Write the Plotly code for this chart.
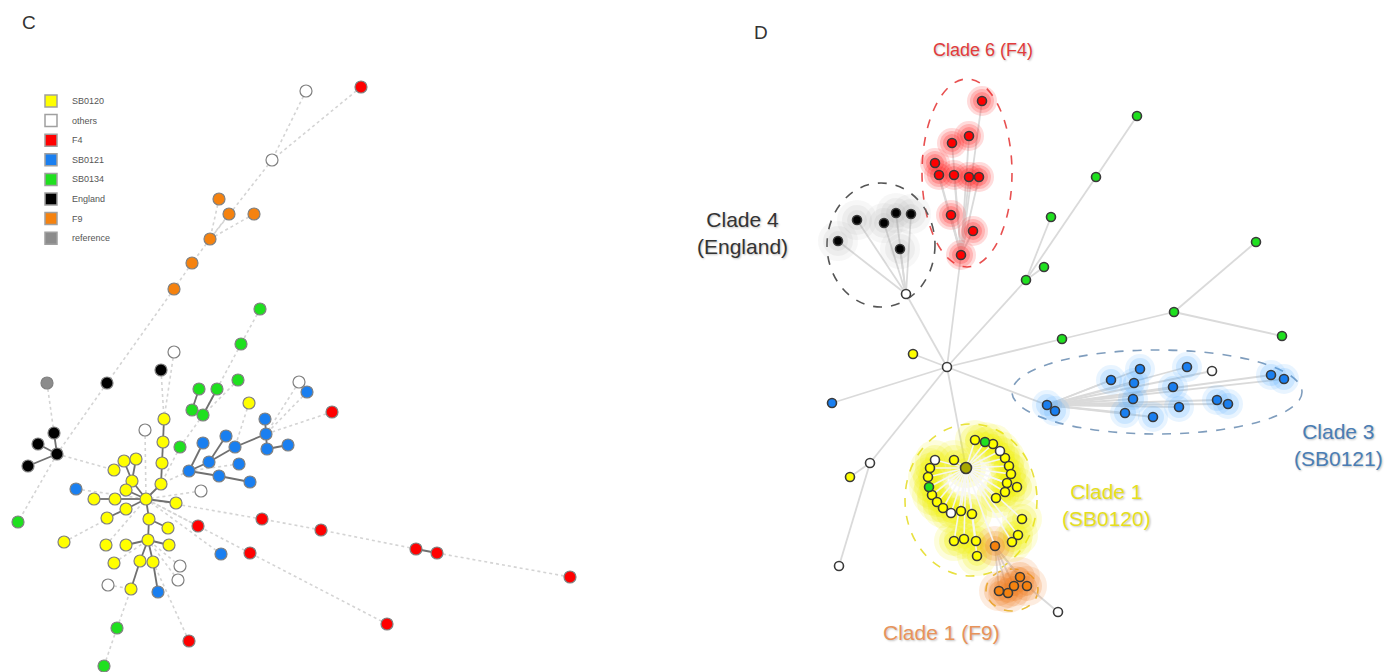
import plotly.graph_objects as go

# ---------------------------------------------------------------- palette
GROUPS = ["SB0120", "others", "F4", "SB0121", "SB0134", "England", "F9", "reference"]
COLORS = {
    "SB0120": "#ffff00",
    "others": "#ffffff",
    "F4": "#ff0000",
    "SB0121": "#1a7ff0",
    "SB0134": "#1fe01f",
    "England": "#000000",
    "F9": "#f5820f",
    "reference": "#8c8c8c",
}

# ---------------------------------------------------------------- panel C network
# node layout (x, y in layout units, y grows downward) and lineage group
c_x = [361, 306, 272, 219, 229, 254, 210, 192, 174, 260, 241, 174, 161, 107, 47, 199, 217, 238,
       299, 307, 249, 332, 192, 203, 164, 265, 54, 145, 226, 266, 235, 203, 267, 288, 163, 180,
       38, 57, 28, 124, 136, 114, 162, 209, 239, 189, 219, 250, 132, 126, 161, 201, 76, 94,
       115, 146, 176, 126, 107, 149, 198, 262, 321, 18, 168, 64, 106, 126, 148, 169, 221, 250,
       114, 140, 153, 180, 178, 108, 131, 158, 117, 189, 104, 416, 437, 570, 387]
c_y = [87, 91, 160, 199, 214, 214, 239, 263, 289, 309, 344, 352, 370, 383, 383, 389, 389, 380,
       382, 392, 403, 412, 410, 415, 419, 419, 433, 430, 436, 434, 447, 443, 449, 445, 442, 447,
       444, 454, 466, 461, 459, 470, 463, 462, 464, 471, 476, 482, 481, 490, 484, 491, 489, 499,
       499, 499, 503, 509, 518, 519, 526, 519, 530, 522, 528, 542, 545, 545, 540, 545, 554, 553,
       563, 561, 562, 566, 580, 585, 589, 592, 628, 641, 666, 549, 553, 577, 624]
c_group = ["F4", "others", "others", "F9", "F9", "F9", "F9", "F9", "F9", "SB0134", "SB0134",
           "others", "England", "England", "reference", "SB0134", "SB0134", "SB0134", "others",
           "SB0121", "SB0120", "F4", "SB0134", "SB0134", "SB0120", "SB0121", "England", "others",
           "SB0121", "SB0121", "SB0121", "SB0121", "SB0121", "SB0121", "SB0120", "SB0134",
           "England", "England", "England", "SB0120", "SB0120", "SB0120", "SB0120", "SB0121",
           "SB0121", "SB0121", "SB0121", "SB0121", "SB0120", "SB0120", "SB0120", "others",
           "SB0121", "SB0120", "SB0120", "SB0120", "SB0120", "SB0120", "SB0120", "SB0120", "F4",
           "F4", "F4", "SB0134", "SB0120", "SB0120", "SB0120", "SB0120", "SB0120", "SB0120",
           "SB0121", "F4", "SB0120", "SB0120", "SB0120", "others", "others", "others", "SB0120",
           "SB0121", "SB0134", "F4", "SB0134", "F4", "F4", "F4", "F4"]

# short (close) links drawn dark, long links drawn faint
c_edges_near = [(26, 37), (36, 37), (38, 37), (24, 34), (34, 42), (42, 50), (50, 55),
                (15, 22), (16, 23), (25, 29), (29, 32), (32, 33), (29, 30), (31, 45),
                (28, 43), (43, 45), (30, 43), (46, 45), (47, 46), (39, 48), (40, 48),
                (48, 55), (49, 55), (53, 54), (54, 55), (57, 55), (58, 57), (56, 55),
                (59, 55), (59, 68), (64, 59), (68, 69), (67, 68), (68, 73), (68, 74),
                (78, 73), (79, 74), (83, 84)]
c_edges_far = [(0, 2), (1, 2), (2, 6), (3, 6), (4, 6), (5, 6), (6, 7), (7, 8), (8, 13),
               (13, 37), (37, 63), (14, 26), (37, 41), (11, 24), (12, 24), (27, 55),
               (9, 10), (10, 23), (17, 23), (23, 35), (35, 50), (19, 29), (18, 29),
               (21, 29), (20, 30), (44, 45), (45, 50), (51, 55), (52, 55), (66, 55),
               (65, 57), (72, 68), (77, 78), (75, 68), (76, 68), (80, 78), (82, 80),
               (81, 74), (60, 55), (61, 55), (62, 61), (83, 62), (84, 85), (71, 55),
               (86, 71), (70, 55)]

# ---------------------------------------------------------------- panel D network
d_x = [947, 913, 832, 870, 850, 839,
       857, 884, 896, 911, 838, 900, 906,
       982, 969, 952, 935, 939, 954, 969, 979, 951, 973, 961,
       1137, 1096, 1051, 1044, 1026, 1062, 1174, 1256, 1282,
       1047, 1055, 1111, 1140, 1134, 1133, 1125, 1153, 1187, 1173, 1179, 1217, 1228, 1271, 1284, 1212,
       966, 975, 985, 993, 1000, 1005, 1009, 1011, 1007, 1017, 1005, 996, 954, 935, 930, 928,
       929, 932, 937, 943, 951, 961, 972, 954, 964, 976, 977, 1022, 1018, 1012,
       995, 1020, 1014, 1027, 1008, 999, 1058]
d_y = [367, 354, 403, 463, 477, 566,
       220, 223, 213, 214, 241, 249, 294,
       101, 136, 143, 163, 175, 175, 177, 177, 215, 231, 255,
       116, 177, 217, 267, 280, 339, 312, 242, 336,
       405, 411, 380, 369, 383, 399, 413, 417, 367, 387, 407, 400, 404, 375, 379, 371,
       468, 440, 442, 444, 451, 458, 466, 474, 483, 487, 492, 498, 460, 460, 468, 477,
       487, 495, 502, 508, 513, 511, 514, 541, 539, 541, 556, 519, 535, 542,
       546, 577, 586, 586, 593, 591, 612]
d_group = ["others", "SB0120", "SB0121", "others", "SB0120", "others"] + \
          ["England"] * 6 + ["others"] + \
          ["F4"] * 11 + \
          ["SB0134"] * 9 + \
          ["SB0121"] * 15 + ["others"] + \
          ["SB0120", "SB0120", "SB0134", "SB0120", "others", "SB0120", "SB0120", "SB0120",
           "SB0120", "SB0120", "SB0120", "SB0120", "SB0120", "others", "SB0120", "SB0120",
           "SB0134", "SB0120", "SB0120", "SB0120", "others", "SB0120", "SB0120", "SB0120",
           "SB0120", "SB0120", "SB0120", "SB0120", "SB0120", "SB0120"] + \
          ["F9"] * 6 + ["others"]
# tree parent of each node (-1 = root)
d_parent = [-1, 0, 0, 0, 3, 3,
            12, 12, 12, 12, 12, 12, 0,
            23, 23, 23, 23, 23, 23, 23, 23, 23, 23, 0,
            25, 28, 28, 28, 0, 0, 29, 30, 30,
            0, 33, 33, 33, 33, 33, 33, 33, 33, 33, 33, 33, 33, 33, 33, 33,
            0] + [49] * 29 + [49, 79, 79, 79, 79, 79, 82]

# ---------------------------------------------------------------- figure
fig = go.Figure()


def add_edges(xs, ys, pairs, color, width, dash):
    ex, ey = [], []
    for a, b in pairs:
        ex += [xs[a], xs[b], None]
        ey += [ys[a], ys[b], None]
    fig.add_trace(go.Scatter(x=ex, y=ey, mode="lines", hoverinfo="skip", showlegend=False,
                             line=dict(color=color, width=width, dash=dash)))


def add_glow(xs, ys, color, layers):
    for size, alpha in layers:
        fig.add_trace(go.Scatter(x=xs, y=ys, mode="markers", hoverinfo="skip", showlegend=False,
                                 marker=dict(size=size, color=color, opacity=alpha, line=dict(width=0))))


# panel C links
add_edges(c_x, c_y, c_edges_far, "#d4d4d4", 1.6, "dot")
add_edges(c_x, c_y, c_edges_near, "#707070", 1.8, "solid")

# panel D links (the SB0120 star is drawn later, on top of its halo, in a pale tone)
star = 49
d_pairs = [(i, p) for i, p in enumerate(d_parent) if p >= 0 and p != star]
add_edges(d_x, d_y, d_pairs, "#dadada", 1.8, "solid")

# panel D cluster halos
clade_idx = {
    "F4": range(13, 24),
    "England": range(6, 12),
    "SB0121": range(33, 48),
    "SB0120": range(49, 79),
    "F9": range(79, 85),
}
halo = {
    "F4": ("#ff2020", [(30, 0.16), (24, 0.2), (18, 0.25)]),
    "England": ("#9a9a9a", [(40, 0.08), (30, 0.1), (20, 0.12)]),
    "SB0121": ("#4aa8ff", [(30, 0.13), (22, 0.18)]),
    "SB0120": ("#f2f200", [(40, 0.14), (30, 0.2), (20, 0.25)]),
    "F9": ("#f07a1a", [(40, 0.14), (30, 0.2), (20, 0.25)]),
}
for clade, idx in clade_idx.items():
    col, layers = halo[clade]
    add_glow([d_x[i] for i in idx], [d_y[i] for i in idx], col, layers)

star_pairs = [(i, p) for i, p in enumerate(d_parent) if p == star]
add_edges(d_x, d_y, star_pairs, "rgba(245,245,245,0.95)", 1.6, "solid")

# dashed clade outlines
outlines = [
    (967, 173, 45, 94, "#e85050"),
    (881, 245, 54, 62, "#555555"),
    (1157, 392, 145, 42, "#7f9dbd"),
    (971, 500, 66, 76, "#e8e040"),
    (1012, 590, 26, 21, "#e8c040"),
]
for cx, cy, rx, ry, col in outlines:
    fig.add_shape(type="circle", xref="x", yref="y", x0=cx - rx, x1=cx + rx, y0=cy - ry, y1=cy + ry,
                  line=dict(color=col, width=1.6, dash="dash"), layer="below")


def pick(xs, ys, groups, keep):
    return ([x for x, g in zip(xs, groups) if keep(g)],
            [y for y, g in zip(ys, groups) if keep(g)])


# nodes
for g in GROUPS:
    xs, ys = pick(c_x, c_y, c_group, lambda v: v == g)
    if xs:
        fig.add_trace(go.Scatter(x=xs, y=ys, mode="markers", showlegend=False, name=g,
                                 marker=dict(size=12, color=COLORS[g],
                                             line=dict(color="#808080", width=1.2))))
    xs, ys = pick(d_x, d_y, d_group, lambda v: v == g)
    if xs:
        fig.add_trace(go.Scatter(x=xs, y=ys, mode="markers", showlegend=False, name=g,
                                 marker=dict(size=9, color=COLORS[g],
                                             line=dict(color="#3a3a3a", width=1.6))))
# central node of the SB0120 star
fig.add_trace(go.Scatter(x=[d_x[star]], y=[d_y[star]], mode="markers", showlegend=False,
                         marker=dict(size=11, color="#a8a800", line=dict(color="#3a3a3a", width=1.6))))

# legend key for panel C
for i, g in enumerate(GROUPS):
    ly = 101 + i * 19.6
    fig.add_shape(type="rect", xref="x", yref="y", x0=45, x1=57, y0=ly - 6, y1=ly + 6,
                  fillcolor=COLORS[g], line=dict(color="#a0a0a0", width=1.5))
    fig.add_annotation(x=70, y=ly, text=g, showarrow=False, xanchor="left", yanchor="middle",
                       font=dict(size=9, color="#555555", family="Arial"))

# panel letters
fig.add_annotation(x=20, y=22, text="C", showarrow=False, xanchor="left",
                   font=dict(size=19, color="#333333", family="Arial"))
fig.add_annotation(x=752, y=32, text="D", showarrow=False, xanchor="left",
                   font=dict(size=19, color="#333333", family="Arial"))

# clade labels: x, y, text, colour, size
clade_labels = [
    (983, 50, "Clade 6 (F4)", "#e23b3b", 18),
    (742, 233, "Clade 4<br>(England)", "#333333", 21),
    (1338, 445, "Clade 3<br>(SB0121)", "#4a7db4", 21),
    (1106, 505, "Clade 1<br>(SB0120)", "#e6df1c", 21),
    (941, 632, "Clade 1 (F9)", "#e8935a", 21),
]
for x, y, t, col, sz in clade_labels:
    fig.add_annotation(x=x, y=y, text=t, showarrow=False, xanchor="center", yanchor="middle",
                       font=dict(size=sz, color=col, family="Arial",
                                 shadow="1px 1px 2px rgba(0,0,0,0.25)"))

fig.update_layout(
    width=1389, height=672, margin=dict(l=0, r=0, t=0, b=0),
    paper_bgcolor="white", plot_bgcolor="white", showlegend=False,
    xaxis=dict(range=[0, 1389], visible=False, fixedrange=True),
    yaxis=dict(range=[672, 0], visible=False, fixedrange=True),
)

fig.write_html("out.html")
